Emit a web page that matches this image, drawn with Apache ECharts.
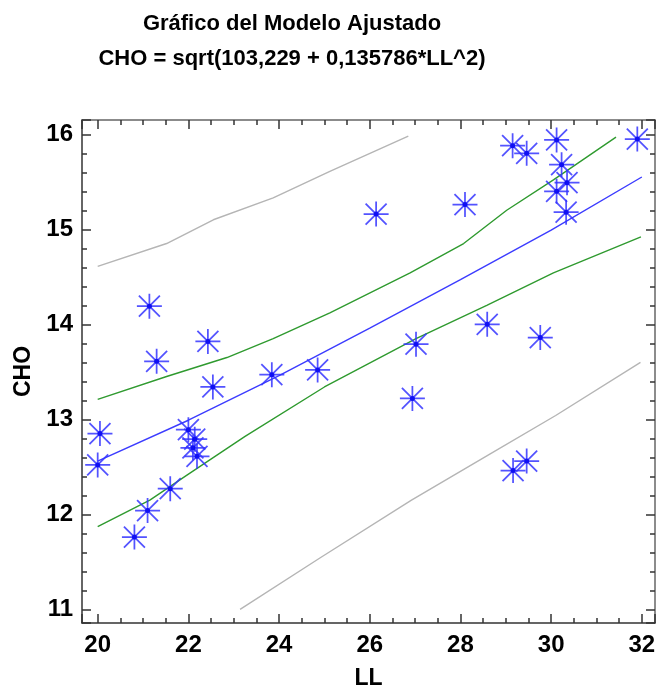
<!DOCTYPE html>
<html>
<head>
<meta charset="utf-8">
<title>Gráfico del Modelo Ajustado</title>
<script src="https://cdn.jsdelivr.net/npm/echarts@6/dist/echarts.min.js"></script>
<style>
    html, body { margin: 0; padding: 0; background: #fff; }
    #chart { width: 657px; height: 696px; }
</style>
</head>
<body>
<div id="chart"></div>
<script>
// 观测点 (LL, CHO)
var LL = [20.05, 20.0, 20.81, 21.10, 21.60, 22.0, 22.14, 22.10, 22.19, 21.14, 21.30, 22.43, 22.54, 23.84, 24.85,
    26.14, 26.94, 27.02, 28.10, 28.59, 29.76, 29.16, 29.46, 29.15, 29.46, 30.12, 30.23, 30.35, 30.12, 30.33, 31.90];
var CHO = [12.85, 12.52, 11.76, 12.04, 12.27, 12.89, 12.79, 12.70, 12.61, 14.19, 13.61, 13.82, 13.34, 13.47, 13.52,
    15.16, 13.22, 13.79, 15.26, 14.00, 13.86, 12.46, 12.56, 15.88, 15.80, 15.94, 15.68, 15.49, 15.40, 15.18, 15.95];

// 拟合线
var fitX = [20, 22, 24, 26, 28, 30, 32];
var fitY = [12.56, 12.99, 13.46, 13.96, 14.47, 14.99, 15.55];
// 置信区间 (绿色)
var confUpX = [20, 21.52, 22.85, 23.87, 25.12, 26.89, 28.07, 29.02, 30.05, 31.43];
var confUpY = [13.21, 13.45, 13.65, 13.85, 14.12, 14.54, 14.85, 15.20, 15.52, 15.97];
var confLoX = [20, 21.15, 21.96, 23.25, 25.0, 27.02, 28.58, 30.05, 31.98];
var confLoY = [11.87, 12.15, 12.41, 12.82, 13.34, 13.85, 14.20, 14.54, 14.92];
// 预测区间 (灰色)
var predUpX = [20, 21.52, 22.55, 23.87, 25.12, 26.85];
var predUpY = [14.61, 14.85, 15.10, 15.33, 15.61, 15.98];
var predLoX = [23.14, 24.9, 26.92, 28.6, 30.1, 31.97];
var predLoY = [11.0, 11.54, 12.15, 12.62, 13.04, 13.60];

var titleLines = ['Gráfico del Modelo Ajustado', 'CHO = sqrt(103,229 + 0,135786*LL^2)'];

var X_MIN = 19.654, X_MAX = 32.29;
var Y_MIN = 10.856, Y_MAX = 16.15;

function zip(xs, ys) {
    var out = [];
    for (var i = 0; i < xs.length; i++) {
        out.push([xs[i], ys[i]]);
    }
    return out;
}

var FONT = '"Liberation Sans", Arial, sans-serif';
var ASTERISK = 'path://M0 46.5 L100 46.5 L100 53.5 L0 53.5 Z M46.5 0 L53.5 0 L53.5 100 L46.5 100 Z ' +
    'M10.5 5.5 L94.5 89.5 L89.5 94.5 L5.5 10.5 Z M94.5 10.5 L10.5 94.5 L5.5 89.5 L89.5 5.5 Z';

function makeAxis(pos, step, isMajor, withLabels, dim) {
    var axis = {
        type: 'value',
        position: pos,
        min: dim === 'x' ? X_MIN : Y_MIN,
        max: dim === 'x' ? X_MAX : Y_MAX,
        minInterval: step,
        maxInterval: step,
        splitLine: {show: false},
        axisLine: {
            show: isMajor,
            onZero: false,
            lineStyle: {color: (pos === 'bottom' || pos === 'left') ? '#333' : '#666', width: 1.5}
        },
        axisTick: {
            show: true,
            inside: true,
            length: isMajor ? 9 : 5,
            lineStyle: {color: '#333', width: 1.5}
        },
        axisLabel: {show: false}
    };
    if (withLabels) {
        axis.axisLabel = {
            show: true,
            margin: dim === 'x' ? 10 : 9,
            color: '#000',
            fontFamily: FONT,
            fontWeight: 'bold',
            fontSize: 24,
            formatter: function (v) {
                return Math.abs(v - Math.round(v)) < 1e-6 && Math.round(v) % step === 0 ? String(Math.round(v)) : '';
            }
        };
        axis.nameLocation = 'middle';
        axis.nameTextStyle = {color: '#000', fontFamily: FONT, fontWeight: 'bold', fontSize: 23};
        axis.name = dim === 'x' ? 'LL' : 'CHO';
        axis.nameGap = dim === 'x' ? 44 : 47;
    }
    return axis;
}

var chart = echarts.init(document.getElementById('chart'), null, {renderer: 'canvas'});
var lineSeries = function (name, data, color) {
    return {
        name: name,
        type: 'line',
        data: data,
        symbol: 'none',
        smooth: false,
        silent: true,
        lineStyle: {color: color, width: 1.4},
        xAxisIndex: 0,
        yAxisIndex: 0,
        z: 2
    };
};

var option = {
    animation: false,
    backgroundColor: '#fff',
    grid: {left: 82, right: 2, top: 120, bottom: 73, containLabel: false, outerBoundsMode: 'none'},
    graphic: [
        {type: 'text', x: 292, y: 24, style: {text: titleLines[0], font: 'bold 22px ' + FONT, fill: '#000', textAlign: 'center', textVerticalAlign: 'middle'}},
        {type: 'text', x: 292, y: 59, style: {text: titleLines[1], font: 'bold 22px ' + FONT, fill: '#000', textAlign: 'center', textVerticalAlign: 'middle'}}
    ],
    xAxis: [
        makeAxis('bottom', 2, true, true, 'x'),
        makeAxis('bottom', 0.5, false, false, 'x'),
        makeAxis('top', 2, true, false, 'x'),
        makeAxis('top', 0.5, false, false, 'x')
    ],
    yAxis: [
        makeAxis('left', 1, true, true, 'y'),
        makeAxis('left', 0.2, false, false, 'y'),
        makeAxis('right', 1, true, false, 'y'),
        makeAxis('right', 0.2, false, false, 'y')
    ],
    series: [
        lineSeries('预测上限', zip(predUpX, predUpY), '#b5b5b5'),
        lineSeries('预测下限', zip(predLoX, predLoY), '#b5b5b5'),
        lineSeries('置信上限', zip(confUpX, confUpY), '#2f9a2f'),
        lineSeries('置信下限', zip(confLoX, confLoY), '#2f9a2f'),
        lineSeries('拟合', zip(fitX, fitY), '#3c3cff'),
        {
            name: 'CHO',
            type: 'scatter',
            data: zip(LL, CHO),
            symbol: ASTERISK,
            symbolSize: 25,
            itemStyle: {color: '#3535ff', opacity: 0.85},
            z: 3
        },
        {
            name: 'CHO-center',
            type: 'scatter',
            data: zip(LL, CHO),
            symbol: 'circle',
            symbolSize: 5,
            itemStyle: {color: '#0000f0'},
            z: 4
        }
    ]
};
chart.setOption(option);
</script>
</body>
</html>
